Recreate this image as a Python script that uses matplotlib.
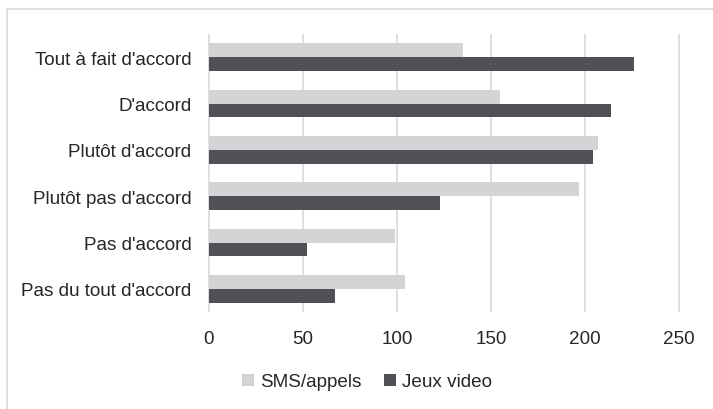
import numpy as np
import matplotlib
matplotlib.use('Agg')
import matplotlib.pyplot as plt
from matplotlib.patches import Rectangle

# data
categories = ["Tout à fait d'accord", "D'accord", "Plutôt d'accord",
              "Plutôt pas d'accord", "Pas d'accord", "Pas du tout d'accord"]
sms = [135, 155, 207, 197, 99, 104]
jeux = [226, 214, 204, 123, 52, 67]
xticks = [0, 50, 100, 150, 200, 250]

plt.rcParams['font.family'] = ['Liberation Sans', 'DejaVu Sans']
txt = '#262626'

fig = plt.figure(figsize=(7.13, 4.10), dpi=100)
ax = fig.add_axes([208/713, 1-313/410, (680-208)/713, (313-35)/410])

y = np.arange(len(categories))
h = 0.3
ax.barh(y-h/2, sms, h, color='#d4d4d6', label='SMS/appels', zorder=2)
ax.barh(y+h/2, jeux, h, color='#505157', label='Jeux video', zorder=2)

ax.set_ylim(len(categories)-0.5, -0.5)
ax.set_xticks(xticks)
ax.set_yticks(y)
ax.set_yticklabels(categories)
ax.tick_params(axis='both', length=0, labelsize=13.6, colors=txt)
ax.tick_params(axis='y', pad=12)
ax.tick_params(axis='x', pad=13)
ax.set_xlim(-0.5, 250.5)
for v in xticks:
    ax.axvline(v, color='#d9d9d9', lw=1.2, zorder=1)
for s in ax.spines.values():
    s.set_visible(False)

fig.legend(loc='center', bbox_to_anchor=(367/713, 1-383/410), ncol=2,
           frameon=False, fontsize=13.6, handlelength=0.65, handleheight=0.65,
           handletextpad=0.3, columnspacing=1.2, labelcolor=txt)

fig.patches.append(Rectangle((7/713, -0.1), 1.0, 1.1-10/410, transform=fig.transFigure,
                             fill=False, edgecolor='#d9d9d9', lw=1.2))

fig.savefig('out.png', dpi=100)
